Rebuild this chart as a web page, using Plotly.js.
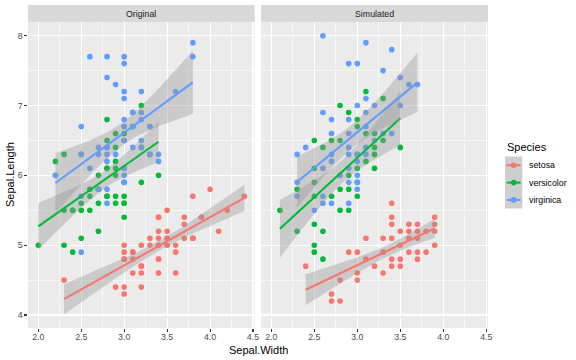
<!DOCTYPE html>
<html>
<head>
<meta charset="utf-8">
<script src="https://cdn.plot.ly/plotly-3.0.1.min.js"></script>
<style>html,body{margin:0;padding:0;background:#fff;}#chart{width:576px;height:360px;}</style>
</head>
<body>
<div id="chart"></div>
<script>
// ---------------- DATA ----------------
const species = ["setosa", "versicolor", "virginica"];
const speciesColors = ["#F8766D", "#00BA38", "#619CFF"];
const panelNames = ["Original", "Simulated"];

// Original (iris)
const origSetosaW = [3.5,3.0,3.2,3.1,3.6,3.9,3.4,3.4,2.9,3.1,3.7,3.4,3.0,3.0,4.0,4.4,3.9,3.5,3.8,3.8,3.4,3.7,3.6,3.3,3.4,3.0,3.4,3.5,3.4,3.2,3.1,3.4,4.1,4.2,3.1,3.2,3.5,3.6,3.0,3.4,3.5,2.3,3.2,3.5,3.8,3.0,3.8,3.2,3.7,3.3];
const origSetosaL = [5.1,4.9,4.7,4.6,5.0,5.4,4.6,5.0,4.4,4.9,5.4,4.8,4.8,4.3,5.8,5.7,5.4,5.1,5.7,5.1,5.4,5.1,4.6,5.1,4.8,5.0,5.0,5.2,5.2,4.7,4.8,5.4,5.2,5.5,4.9,5.0,5.5,4.9,4.4,5.1,5.0,4.5,4.4,5.0,5.1,4.8,5.1,4.6,5.3,5.0];
const origVersicolorW = [3.2,3.2,3.1,2.3,2.8,2.8,3.3,2.4,2.9,2.7,2.0,3.0,2.2,2.9,2.9,3.1,3.0,2.7,2.2,2.5,3.2,2.8,2.5,2.8,2.9,3.0,2.8,3.0,2.9,2.6,2.4,2.4,2.7,2.7,3.0,3.4,3.1,2.3,3.0,2.5,2.6,3.0,2.6,2.3,2.7,3.0,2.9,2.9,2.5,2.8];
const origVersicolorL = [7.0,6.4,6.9,5.5,6.5,5.7,6.3,4.9,6.6,5.2,5.0,5.9,6.0,6.1,5.6,6.7,5.6,5.8,6.2,5.6,5.9,6.1,6.3,6.1,6.4,6.6,6.8,6.7,6.0,5.7,5.5,5.5,5.8,6.0,5.4,6.0,6.7,6.3,5.6,5.5,5.5,6.1,5.8,5.0,5.6,5.7,5.7,6.2,5.1,5.7];
const origVirginicaW = [3.3,2.7,3.0,2.9,3.0,3.0,2.5,2.9,2.5,3.6,3.2,2.7,3.0,2.5,2.8,3.2,3.0,3.8,2.6,2.2,3.2,2.8,2.8,2.7,3.3,3.2,2.8,3.0,2.8,3.0,2.8,3.8,2.8,2.8,2.6,3.0,3.4,3.1,3.0,3.1,3.1,3.1,2.7,3.2,3.3,3.0,2.5,3.0,3.4,3.0];
const origVirginicaL = [6.3,5.8,7.1,6.3,6.5,7.6,4.9,7.3,6.7,7.2,6.5,6.4,6.8,5.7,5.8,6.4,6.5,7.7,7.7,6.0,6.9,5.6,7.7,6.3,6.7,7.2,6.2,6.1,6.4,7.2,7.4,7.9,6.4,6.3,6.1,7.7,6.3,6.4,6.0,6.9,6.7,6.9,5.8,6.8,6.7,6.7,6.3,6.5,6.2,5.9];

// Simulated
const simSetosaW = [3.4,3.4,3.9,3.4,3.6,3.7,3.9,3.5,3.6,3.7,3.8,3.9,3.1,3.3,3.4,3.6,3.7,3.5,3.9,2.9,3.0,3.3,3.6,3.7,3.8,3.1,3.4,3.5,3.7,2.4,3.2,3.4,3.5,3.0,3.3,2.8,3.0,2.7,2.7,2.8];
const simSetosaL = [5.6,5.4,5.4,5.3,5.3,5.3,5.3,5.2,5.2,5.2,5.2,5.2,5.1,5.1,5.1,5.1,5.1,5.0,5.0,4.9,4.9,4.9,4.9,4.9,4.9,4.8,4.8,4.8,4.8,4.7,4.7,4.7,4.7,4.6,4.6,4.5,4.5,4.3,4.2,4.2];
const simVersicolorW = [3.1,3.3,2.8,2.9,3.0,3.0,3.1,3.2,2.5,2.7,2.8,3.3,2.6,3.2,3.5,3.0,3.2,3.1,2.5,3.0,3.2,2.9,2.5,3.0,2.3,2.8,2.9,2.5,2.7,3.0,2.1,2.8,2.9,2.5,2.3,2.6,2.5,2.5,2.6];
const simVersicolorL = [7.2,7.1,7.0,6.9,6.8,6.7,6.6,6.6,6.5,6.5,6.5,6.5,6.4,6.4,6.4,6.3,6.3,6.2,6.1,6.1,6.1,6.0,5.9,5.9,5.8,5.8,5.8,5.7,5.7,5.7,5.5,5.5,5.5,5.3,5.2,5.2,5.0,4.9,4.8];
const simVirginicaW = [2.6,3.1,3.4,2.9,3.0,3.3,3.5,3.6,3.7,3.1,3.0,3.2,3.5,2.6,3.1,2.7,2.9,3.1,2.7,2.9,3.3,3.4,3.2,2.4,2.9,3.1,2.3,2.7,2.9,3.0,3.1,2.7,3.0,2.6,2.9,2.8,3.0,2.3,2.9,3.0,3.0,2.3,2.6,2.6,2.7,2.9,2.5];
const simVirginicaL = [8.0,7.9,7.8,7.6,7.6,7.5,7.4,7.3,7.3,7.1,7.0,7.0,7.0,6.9,6.9,6.8,6.8,6.7,6.6,6.6,6.6,6.6,6.5,6.4,6.4,6.4,6.3,6.3,6.3,6.3,6.3,6.2,6.2,6.1,6.1,6.0,6.0,5.9,5.9,5.9,5.8,5.7,5.7,5.6,5.6,5.6,5.5];

const xTicks = [2.0, 2.5, 3.0, 3.5, 4.0, 4.5];
const yTicks = [4, 5, 6, 7, 8];

// ---------------- HELPERS ----------------
function tq(df) {
  const z = 1.959964;
  return z + (z*z*z + z) / (4*df) + (5*Math.pow(z,5) + 16*z*z*z + 3*z) / (96*df*df)
    + (3*Math.pow(z,7) + 19*Math.pow(z,5) + 17*z*z*z - 15*z) / (384*df*df*df);
}
function lmFit(xs, ys) {
  const n = xs.length;
  const mx = xs.reduce((a,b)=>a+b,0)/n, my = ys.reduce((a,b)=>a+b,0)/n;
  let sxx = 0, sxy = 0;
  for (let i=0;i<n;i++){ sxx += (xs[i]-mx)**2; sxy += (xs[i]-mx)*(ys[i]-my); }
  const b = sxy/sxx, a = my - b*mx;
  let rss = 0;
  for (let i=0;i<n;i++){ rss += (ys[i]-a-b*xs[i])**2; }
  const s = Math.sqrt(rss/(n-2)), t = tq(n-2);
  const lo = Math.min(...xs), hi = Math.max(...xs);
  const gx = [], fit = [], up = [], dn = [];
  for (let k=0;k<80;k++){
    const x = lo + (hi-lo)*k/79;
    const f = a + b*x;
    const se = s*Math.sqrt(1/n + (x-mx)**2/sxx);
    gx.push(x); fit.push(f); up.push(f + t*se); dn.push(f - t*se);
  }
  return {gx, fit, up, dn};
}

const panels = [
  [[origSetosaW, origSetosaL], [origVersicolorW, origVersicolorL], [origVirginicaW, origVirginicaL]],
  [[simSetosaW, simSetosaL], [simVersicolorW, simVersicolorL], [simVirginicaW, simVirginicaL]]
];

const traces = [];
panels.forEach((groups, p) => {
  const xa = p === 0 ? 'x' : 'x2', ya = p === 0 ? 'y' : 'y2';
  groups.forEach((g, s) => {
    traces.push({type:'scatter', mode:'markers', x:g[0], y:g[1], xaxis:xa, yaxis:ya,
      marker:{color:speciesColors[s], size:5.6, line:{width:0}}, showlegend:false, hoverinfo:'skip'});
  });
  groups.forEach((g, s) => {
    const f = lmFit(g[0], g[1]);
    traces.push({type:'scatter', mode:'lines', x:f.gx.concat(f.gx.slice().reverse()),
      y:f.up.concat(f.dn.slice().reverse()), fill:'toself', fillcolor:'rgba(153,153,153,0.4)',
      line:{width:0}, xaxis:xa, yaxis:ya, showlegend:false, hoverinfo:'skip'});
    traces.push({type:'scatter', mode:'lines', x:f.gx, y:f.fit, line:{color:speciesColors[s], width:2.1},
      xaxis:xa, yaxis:ya, showlegend:false, hoverinfo:'skip'});
  });
});

// ---------------- LAYOUT ----------------
const ML = 28, MR = 88, MT = 22, MB = 32, W = 576, H = 360;
const PW = W - ML - MR, PH = H - MT - MB;
const px = v => (v - ML) / PW;
const py = v => (H - MB - v) / PH;
const dom1 = [0, px(254.7)], dom2 = [px(261), 1];
const font = "Liberation Sans, Arial, Helvetica, sans-serif";

function xAxis(dom, anchor) {
  return {domain: dom, anchor: anchor, range: [1.88, 4.52], tickvals: xTicks, ticktext: xTicks.map(v=>v.toFixed(1)),
    showgrid: true, gridcolor: '#FFFFFF', gridwidth: 1.07, zeroline: false, showline: false,
    ticks: 'outside', ticklen: 2.7, tickwidth: 1.07, tickcolor: '#333333', ticklabelstandoff: -2,
    tickfont: {family: font, size: 8.8, color: '#4D4D4D'},
    minor: {tickvals: [2.25,2.75,3.25,3.75,4.25], showgrid: true, gridcolor: '#FFFFFF', gridwidth: 0.53, ticks: ''}};
}
function yAxis(anchor, labels) {
  return {domain: [0,1], anchor: anchor, range: [3.814, 8.196], tickvals: yTicks, ticktext: yTicks.map(String),
    showticklabels: labels, showgrid: true, gridcolor: '#FFFFFF', gridwidth: 1.07, zeroline: false, showline: false,
    ticks: labels ? 'outside' : '', ticklen: 2.7, tickwidth: 1.07, tickcolor: '#333333',
    tickfont: {family: font, size: 8.8, color: '#4D4D4D'},
    minor: {tickvals: [4.5,5.5,6.5,7.5], showgrid: true, gridcolor: '#FFFFFF', gridwidth: 0.53, ticks: ''}};
}

const shapes = [], annotations = [];
// facet strips
[dom1, dom2].forEach((d, i) => {
  shapes.push({type:'rect', xref:'paper', yref:'paper', x0:d[0], x1:d[1], y0:1, y1:py(5), fillcolor:'#D9D9D9', line:{width:0}, layer:'below'});
  annotations.push({xref:'paper', yref:'paper', x:(d[0]+d[1])/2, y:py(13.7), text:panelNames[i], showarrow:false,
    font:{family:font, size:8.8, color:'#1A1A1A'}, xanchor:'center', yanchor:'middle'});
});
// axis titles
annotations.push({xref:'paper', yref:'paper', x:px(258), y:py(350), text:'Sepal.Width', showarrow:false,
  font:{family:font, size:11, color:'#000000'}, xanchor:'center', yanchor:'middle'});
annotations.push({xref:'paper', yref:'paper', x:px(10), y:py(175), text:'Sepal.Length', showarrow:false, textangle:-90,
  font:{family:font, size:11, color:'#000000'}, xanchor:'center', yanchor:'middle'});
// legend
annotations.push({xref:'paper', yref:'paper', x:px(505), y:py(147), text:'Species', showarrow:false,
  font:{family:font, size:11, color:'#000000'}, xanchor:'left', yanchor:'middle'});
const keyY = [165.3, 182.6, 199.9];
shapes.push({type:'rect', xref:'paper', yref:'paper', x0:px(505), x1:px(522.3), y0:py(156.6), y1:py(208.6),
  fillcolor:'#CECECE', line:{width:0}});
species.forEach((s, i) => {
  const yk = keyY[i];
  shapes.push({type:'line', xref:'paper', yref:'paper', x0:px(506.7), x1:px(520.6), y0:py(yk), y1:py(yk),
    line:{color:speciesColors[i], width:2.1}});
  shapes.push({type:'circle', xref:'paper', yref:'paper', x0:px(513.65-2.8), x1:px(513.65+2.8), y0:py(yk+2.8), y1:py(yk-2.8),
    fillcolor:speciesColors[i], line:{width:0}});
  annotations.push({xref:'paper', yref:'paper', x:px(527), y:py(yk), text:s, showarrow:false,
    font:{family:font, size:8.8, color:'#000000'}, xanchor:'left', yanchor:'middle'});
});

const layout = {
  width: W, height: H, margin: {l: ML, r: MR, t: MT, b: MB, pad: 0},
  paper_bgcolor: '#FFFFFF', plot_bgcolor: '#EBEBEB', showlegend: false,
  font: {family: font},
  xaxis: xAxis(dom1, 'y'), xaxis2: xAxis(dom2, 'y2'),
  yaxis: yAxis('x', true), yaxis2: yAxis('x2', false),
  shapes: shapes, annotations: annotations
};

Plotly.newPlot('chart', traces, layout, {staticPlot: true, displayModeBar: false});
</script>
</body>
</html>
